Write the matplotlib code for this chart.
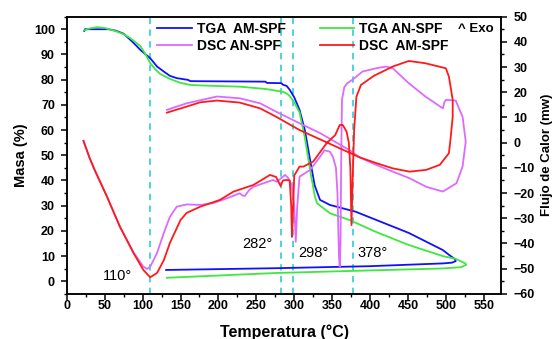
import matplotlib
matplotlib.use("Agg")
import matplotlib.pyplot as plt
from matplotlib.ticker import MultipleLocator

plt.rcParams['font.family'] = ['Liberation Sans', 'DejaVu Sans']

# TGA AM-SPF (mass %)
tga_am_T = [23, 24, 55, 65, 75, 83, 90, 97, 110, 119, 128, 136, 145, 160, 163, 262, 264, 283, 285, 290,
            294, 300, 307, 314, 321, 327, 334, 347, 381, 451, 496, 505, 512, 513, 508, 496, 400, 276, 131]
tga_am_m = [99.3, 100, 100, 99.4, 98.2, 96, 94, 91.8, 88.5, 85.2, 83.2, 81.5, 80.6, 79.9, 79.4, 79.2, 78.7, 78.6, 78.0, 77.5,
            76, 73, 68, 60, 48, 38, 32.3, 30.3, 27.6, 19.2, 12.4, 10.3, 8.8, 8.0, 7.4, 7.1, 6.0, 5.2, 4.5]

# TGA AN-SPF (mass %)
tga_an_T = [23, 30, 40, 50, 64, 75, 83, 90, 97, 103, 110, 117, 123, 136, 150, 163, 176, 229, 262, 285,
            290, 294, 300, 307, 314, 321, 327, 330, 347, 373, 407, 451, 496, 513, 525, 527, 520, 496, 276, 132]
tga_an_m = [99.5, 100.3, 100.8, 100.5, 99.3, 98, 96.6, 95, 93.3, 90.5, 86.6, 84, 82.3, 80.3, 78.7, 77.9, 77.7, 77.2, 76.3, 75.2,
            74.5, 73.5, 71, 67, 57, 44, 34, 31, 27, 24.3, 19.7, 14.4, 10, 8.9, 7.2, 6.6, 5.6, 5.1, 3.3, 1.4]

# DSC AN-SPF (mW)
dsc_an_T = [22, 30, 37, 53, 70, 88, 101, 106, 110, 119, 128, 136, 145, 158, 176, 193, 211, 228, 232, 235,
            240, 246, 272, 277, 288, 292, 297, 300, 302, 304, 307, 321, 334, 340, 347, 351, 355, 357, 359, 360,
            361, 362, 363, 366, 370, 377, 390, 408, 421, 430, 451, 473, 496, 498, 500, 513, 522, 526, 526, 522,
            514, 496, 474, 452, 430, 408, 386, 373, 334, 307, 276, 255, 228, 198, 158, 132]
dsc_an_q = [0.7, -6, -11, -21.4, -33.3, -43.5, -49.2, -50.1, -49.2, -43.8, -35.8, -29.4, -25.4, -24.5, -24.7, -24, -22.1, -20.1, -21, -21.1,
            -19, -17.5, -14.8, -15.5, -12.8, -14, -17, -25, -39.3, -25, -13.5, -10.8, -5.6, -3, -3.6, -5.6, -10, -20, -45, -49.2,
            -40, -5, 17, 22, 23.6, 25, 28.2, 29.5, 30.2, 29.5, 23.6, 18.3, 13.6, 16, 17, 16.7, 10.3, 1, -0.1, -9.5,
            -16.1, -19.4, -17.5, -14.1, -11.5, -8.8, -5.8, -3, 3.8, 7.7, 12.3, 15.6, 17.6, 18.3, 15.6, 13]

# DSC AM-SPF (mW)
dsc_am_T = [22, 30, 37, 53, 70, 88, 101, 110, 119, 128, 136, 150, 158, 176, 202, 220, 246, 268, 276, 280,
            282, 285, 290, 294, 296, 297, 298, 300, 307, 312, 325, 343, 354, 360, 364, 369, 372, 374, 375.5, 377,
            379, 382, 388, 405, 430, 451, 473, 500, 504, 509, 509, 506, 504, 492, 474, 452, 430, 408, 386, 351,
            307, 276, 255, 228, 198, 176, 158, 132]
dsc_am_q = [0.7, -6, -11, -21.4, -33.3, -43.8, -50.5, -53.4, -51.7, -46.6, -39.8, -30.7, -27.9, -25.4, -22.7, -19.4, -16.8, -12.8, -13.6, -16,
            -17.2, -15, -14.8, -15, -25, -37.4, -30, -13, -9.5, -9.5, -7.5, -0.1, 3, 7, 7, 4.4, 0, -10, -32.7, -15,
            5, 18.2, 22.9, 26.5, 30.2, 32.4, 31.5, 29.5, 26.2, 17, 10.2, 1, -4.2, -8.8, -10.8, -11.5, -10.2, -8.1, -5.8, -1,
            5, 10.3, 13.6, 15.9, 16.7, 16, 14.3, 11.9]

peaks = [110, 282, 298, 378]
peak_labels = ["110°", "282°", "298°", "378°"]
peak_label_pos = [(48, 2.1), (231, 14.8), (305, 11.2), (384, 11.2)]

fig = plt.figure(figsize=(5.52, 3.39), dpi=100)
ax = fig.add_axes([0.121, 0.133, 0.787, 0.818])
ax2 = ax.twinx()

for p in peaks:
    ax.axvline(p, color='#3fd0d8', ls=(0, (3.5, 3)), lw=1.3, zorder=1)

c_blue = '#1010ff'
c_green = '#3ee83e'
c_mag = '#dd6aff'
c_red = '#ff1a1a'

l1, = ax.plot(tga_am_T, tga_am_m, color=c_blue, lw=1.3, label='TGA  AM-SPF', zorder=3)
l2, = ax.plot(tga_an_T, tga_an_m, color=c_green, lw=1.3, label='TGA AN-SPF', zorder=3)
l3, = ax2.plot(dsc_an_T, dsc_an_q, color=c_mag, lw=1.3, label='DSC AN-SPF')
l4, = ax2.plot(dsc_am_T, dsc_am_q, color=c_red, lw=1.3, label='DSC  AM-SPF')

ax.set_xlim(0, 573)
ax.set_ylim(-5, 105)
ax2.set_ylim(-60, 50)

ax.xaxis.set_major_locator(MultipleLocator(50))
ax.xaxis.set_minor_locator(MultipleLocator(25))
ax.yaxis.set_major_locator(MultipleLocator(10))
ax.yaxis.set_minor_locator(MultipleLocator(5))
ax2.yaxis.set_major_locator(MultipleLocator(10))
ax2.yaxis.set_minor_locator(MultipleLocator(5))
ax.set_yticks(range(0, 101, 10))

for a in (ax, ax2):
    a.tick_params(which='major', direction='out', length=4, width=1.1, labelsize=9)
    a.tick_params(which='minor', direction='out', length=2.2, width=1.0)
    for lab in a.get_xticklabels() + a.get_yticklabels():
        lab.set_fontweight('bold')
    for s in a.spines.values():
        s.set_linewidth(1.1)
ax.tick_params(axis='x', which='major', pad=0.5)
ax.tick_params(axis='y', which='major', pad=4.5)
ax2.tick_params(axis='y', which='major', pad=5)

ax.set_xlabel('Temperatura (°C)', fontsize=11.5, fontweight='bold', labelpad=9)
ax.set_ylabel('Masa (%)', fontsize=10.5, fontweight='bold', labelpad=4)
ax2.set_ylabel('Flujo de Calor (mw)', fontsize=9.5, fontweight='bold', labelpad=4)

for (tx, ty), s in zip(peak_label_pos, peak_labels):
    ax.text(tx, ty, s, fontsize=10.5, ha='left', va='center')

leg = ax.legend(handles=[l1, l3, l2, l4], ncol=2, loc='upper left',
                bbox_to_anchor=(157 / 552, 1 - 22 / 339), bbox_transform=fig.transFigure,
                frameon=False, fontsize=10, handlelength=2.5, columnspacing=2.45, handletextpad=0.35,
                labelspacing=0.22, borderaxespad=0.0, borderpad=0.0)
for t in leg.get_texts():
    t.set_fontweight('bold')
fig.text(476 / 552, 1 - 29 / 339, '^ Exo', fontsize=9.5, fontweight='bold', ha='center', va='center')

fig.savefig('out.png', dpi=100)
